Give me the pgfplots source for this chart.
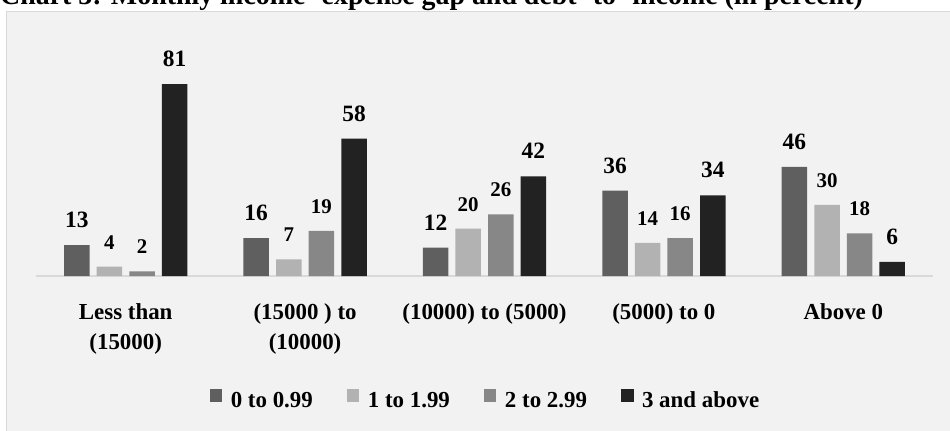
\documentclass[border=0pt]{standalone}
\usepackage{pgfplots}
\pgfplotsset{compat=1.18}
\usepackage{fontspec}
\setmainfont{Liberation Serif}

\definecolor{chartbg}{HTML}{F2F2F2}
\definecolor{framegray}{HTML}{D9D9D9}
\definecolor{sA}{HTML}{5F5F5F}
\definecolor{sB}{HTML}{B2B2B2}
\definecolor{sC}{HTML}{878787}
\definecolor{sD}{HTML}{222222}

\newcommand{\bigval}{\fontsize{23.5}{28}\selectfont\bfseries}
\newcommand{\smallval}{\fontsize{21}{25}\selectfont\bfseries}

\begin{document}
\begin{tikzpicture}
% chart area background and frame
\fill[chartbg] (6.5bp,-11.5bp) rectangle (970bp,-450bp);
\draw[framegray, line width=1.5bp] (6.5bp,-450bp) -- (6.5bp,-11.5bp) -- (970bp,-11.5bp);
% title (runs above the top edge of the page)
\node[anchor=base west, inner sep=0pt, font=\fontsize{28}{32}\selectfont\bfseries]
  at (0bp,-4.5bp) {Chart 3: Monthly income- expense gap and debt- to- income (in percent)};

\begin{axis}[
  at={(36bp,-276bp)}, anchor=south west,
  scale only axis, width=897bp, height=237bp,
  xmin=-0.5, xmax=4.5, ymin=0, ymax=100,
  ybar, bar width=25.5bp,
  axis x line=bottom, axis y line=none,
  x axis line style={draw=framegray, line width=1.5bp, -},
  xtick={0,1,2,3,4}, xtick style={draw=none},
  xticklabels={
    {\strut Less than\\\strut (15000)},
    {\strut (15000 ) to\\\strut (10000)},
    {\strut (10000) to (5000)},
    {\strut (5000) to 0},
    {\strut Above 0}},
  xticklabel style={align=center, anchor=north, inner sep=0pt, yshift=-20bp,
    font=\fontsize{23}{30}\selectfont\bfseries},
  /pgf/number format/assume math mode=true,
  nodes near coords,
  every node near coord/.append style={anchor=base, inner sep=0pt, yshift=17.5bp, text=black},
  legend image code/.code={\fill[#1,/tikz/.cd] (0bp,0bp) rectangle (12.5bp,13bp);},
  legend columns=4,
  legend style={at={(0.5,-0.525)}, anchor=center, draw=none, fill=none,
    inner sep=0pt,
    font=\fontsize{23}{27}\selectfont\bfseries,
    nodes={inner sep=0pt, text height=15bp, text depth=4bp},
    /tikz/every odd column/.append style={column sep=8.5bp},
    /tikz/every even column/.append style={column sep=34bp}},
]
\addplot[fill=sA, draw=none, bar shift=-48.9bp, nodes near coords style={font=\bigval}]
  coordinates {(0,13) (1,16) (2,12) (3,36) (4,46)};
\addplot[fill=sB, draw=none, bar shift=-16.3bp, nodes near coords style={font=\smallval}]
  coordinates {(0,4) (1,7) (2,20) (3,14) (4,30)};
\addplot[fill=sC, draw=none, bar shift=16.3bp, nodes near coords style={font=\smallval}]
  coordinates {(0,2) (1,19) (2,26) (3,16) (4,18)};
\addplot[fill=sD, draw=none, bar shift=48.9bp, nodes near coords style={font=\bigval}]
  coordinates {(0,81) (1,58) (2,42) (3,34) (4,6)};
\legend{0 to 0.99, 1 to 1.99, 2 to 2.99, 3 and above}
\end{axis}

\pgfresetboundingbox
\useasboundingbox (0bp,0bp) rectangle (950bp,-431bp);
\end{tikzpicture}
\end{document}
